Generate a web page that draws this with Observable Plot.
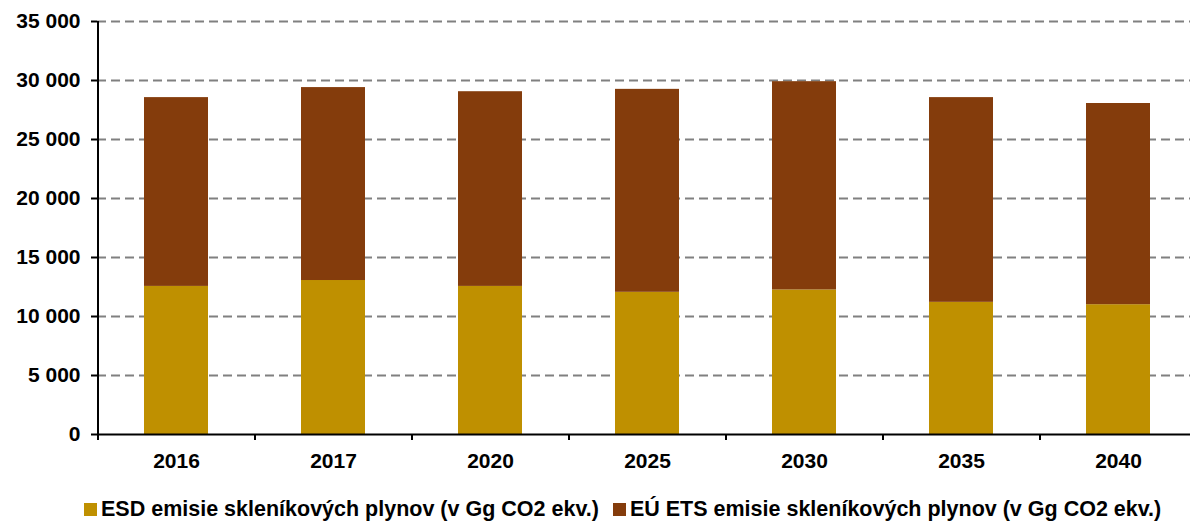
<!DOCTYPE html>
<html>
<head>
<meta charset="utf-8">
<script src="https://cdn.jsdelivr.net/npm/d3@7"></script>
<script src="https://cdn.jsdelivr.net/npm/@observablehq/plot@0.6"></script>
<style>
  html, body { margin: 0; padding: 0; background: white; overflow: hidden; }
  #wrap { width: 1190px; height: 522px; overflow: hidden; position: relative; font-family: "Liberation Sans", Arial, sans-serif; }
  #chart svg { max-width: none !important; }
  #legend { position: absolute; left: 84px; top: 497px; display: flex; align-items: center; font-weight: bold; font-size: 21.5px; white-space: nowrap; color: #000; }
  .item { display: flex; align-items: center; margin-right: 14px; }
  .sw { width: 13px; height: 13px; margin-right: 4px; display: inline-block; }
</style>
</head>
<body>
<div id="wrap">
  <div id="chart"></div>
  <div id="legend"></div>
</div>
<script>
const years = ["2016", "2017", "2020", "2025", "2030", "2035", "2040"];
const seriesNames = [
  "ESD emisie skleníkových plynov (v Gg CO2 ekv.)",
  "EÚ ETS emisie skleníkových plynov (v Gg CO2 ekv.)"
];
const esdValues = [12550, 13050, 12550, 12050, 12250, 11200, 11000];
const etsValues = [16000, 16350, 16500, 17200, 17650, 17350, 17050];
const yTicks = [0, 5000, 10000, 15000, 20000, 25000, 30000, 35000];
const colors = ["#BF9000", "#843C0C"];

const rows = [];
years.forEach((y, i) => {
  rows.push({year: y, series: seriesNames[0], value: esdValues[i]});
  rows.push({year: y, series: seriesNames[1], value: etsValues[i]});
});

const W = 1200, mL = 97, mR = 4;
const step = (W - mL - mR) / years.length;
const pad = 0.595;
const fmt = d => d3.format(",")(d).replace(/,/g, " ");

const chart = Plot.plot({
  width: W,
  height: 480,
  marginLeft: mL,
  marginRight: mR,
  marginTop: 21,
  marginBottom: 46,
  style: {fontFamily: '"Liberation Sans", Arial, sans-serif', fontSize: "21px", fontWeight: "bold", color: "#000", background: "white", overflow: "visible"},
  x: {domain: years, padding: pad, paddingOuter: pad / 2, label: null},
  y: {domain: [0, 35000], label: null},
  color: {domain: seriesNames, range: colors},
  marks: [
    Plot.ruleY(yTicks.filter(d => d > 0), {stroke: "#808080", strokeWidth: 2, strokeDasharray: "9,5"}),
    Plot.barY(rows, {x: "year", y: "value", fill: "series", order: seriesNames}),
    Plot.ruleY([0], {stroke: "#000", strokeWidth: 2}),
    Plot.ruleX([years[0]], {dx: -step / 2, stroke: "#000", strokeWidth: 2}),
    Plot.axisY({ticks: yTicks, tickFormat: fmt, tickSize: 6, tickPadding: 11, strokeWidth: 2, fontSize: 21}),
    Plot.axisX({tickSize: 0, tickPadding: 19, fontSize: 21}),
    Plot.axisX({tickSize: 6, tickFormat: () => "", dx: -step / 2, strokeWidth: 2})
  ]
});
document.getElementById("chart").appendChild(chart);

const legend = document.getElementById("legend");
seriesNames.forEach((name, i) => {
  const item = document.createElement("div");
  item.className = "item";
  const sw = document.createElement("span");
  sw.className = "sw";
  sw.style.background = colors[i];
  const t = document.createElement("span");
  t.textContent = name;
  item.appendChild(sw);
  item.appendChild(t);
  legend.appendChild(item);
});
</script>
</body>
</html>
